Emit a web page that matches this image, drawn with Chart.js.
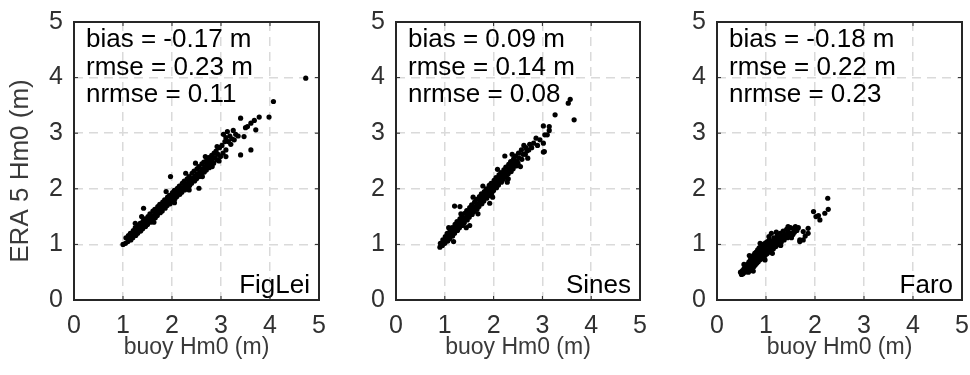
<!DOCTYPE html>
<html>
<head>
<meta charset="utf-8">
<script src="https://cdn.jsdelivr.net/npm/chart.js@4.4.0/dist/chart.umd.min.js"></script>
<style>
  html, body { margin: 0; padding: 0; background: #fff; }
  #wrap { position: relative; width: 970px; height: 375px; overflow: hidden; }
  #wrap canvas { position: absolute; top: 0; }
</style>
</head>
<body>
<div id="wrap">
  <canvas id="c0" width="340" height="375" style="left:0px"></canvas>
  <canvas id="c1" width="340" height="375" style="left:322px"></canvas>
  <canvas id="c2" width="327" height="375" style="left:643px"></canvas>
</div>
<script>
/* ERA5 vs buoy Hm0 scatter, three stations */

const FONT = '"Liberation Sans", Arial, Helvetica, sans-serif';

const stationNames = ['FigLei', 'Sines', 'Faro'];
const biasVals = ['-0.17', '0.09', '-0.18'];
const rmseVals = ['0.23', '0.14', '0.22'];
const nrmseVals = ['0.11', '0.08', '0.23'];
const tickValues = [0, 1, 2, 3, 4, 5];
const xTitle = 'buoy Hm0 (m)';
const yTitle = 'ERA 5 Hm0 (m)';

// [buoy, ERA5] pairs
const figleiPts = [
  [1.00,1.00],[1.05,1.02],[1.06,1.12],[1.10,1.05],[1.11,1.16],[1.12,1.09],[1.15,1.20],[1.16,1.08],
  [1.17,1.14],[1.20,1.12],[1.21,1.25],[1.22,1.18],[1.25,1.30],[1.26,1.16],[1.27,1.24],[1.30,1.20],
  [1.31,1.34],[1.32,1.28],[1.35,1.38],[1.36,1.24],[1.37,1.32],[1.40,1.28],[1.41,1.42],[1.42,1.36],
  [1.42,1.65],[1.45,1.46],[1.46,1.32],[1.47,1.40],[1.50,1.36],[1.51,1.50],[1.52,1.44],[1.55,1.55],
  [1.56,1.40],[1.57,1.48],[1.60,1.45],[1.61,1.60],[1.62,1.52],[1.65,1.63],[1.66,1.48],[1.67,1.57],
  [1.70,1.52],[1.71,1.68],[1.72,1.60],[1.75,1.72],[1.76,1.57],[1.77,1.65],[1.80,1.60],[1.81,1.76],
  [1.82,1.69],[1.85,1.80],[1.86,1.65],[1.87,1.74],[1.90,1.70],[1.91,1.85],[1.92,1.78],[1.95,1.88],
  [1.96,1.73],[1.97,1.82],[1.97,2.22],[2.00,1.78],[2.01,1.93],[2.02,1.86],[2.05,1.97],[2.06,1.82],
  [2.07,1.90],[2.10,1.86],[2.11,2.01],[2.12,1.94],[2.15,2.05],[2.16,1.90],[2.17,1.98],[2.20,1.94],
  [2.21,2.10],[2.22,2.02],[2.25,2.14],[2.26,1.98],[2.27,2.07],[2.30,2.02],[2.31,2.18],[2.32,2.10],
  [2.35,2.22],[2.36,2.06],[2.37,2.15],[2.40,2.10],[2.41,2.28],[2.42,2.19],[2.45,2.32],[2.46,2.14],
  [2.47,2.23],[2.50,2.18],[2.51,2.36],[2.52,2.27],[2.55,2.40],[2.55,2.01],[2.56,2.22],[2.57,2.31],
  [2.60,2.26],[2.61,2.45],[2.62,2.36],[2.65,2.48],[2.66,2.30],[2.67,2.40],[2.70,2.34],[2.71,2.52],
  [2.72,2.44],[2.75,2.56],[2.76,2.38],[2.77,2.48],[2.80,2.42],[2.81,2.60],[2.82,2.52],[2.85,2.46],
  [2.86,2.64],[2.88,2.56],[2.90,2.68],[2.92,2.52],[2.94,2.62],[2.97,2.74],[2.99,2.58],[3.02,2.78],
  [3.04,2.64],[3.08,2.85],[3.10,2.70],[3.10,2.58],[3.10,2.92],[3.13,3.03],[3.15,2.85],[3.18,2.95],
  [3.20,2.80],[3.22,2.90],[3.27,2.88],[3.30,2.98],[3.35,2.95],[3.40,3.27],[3.40,2.61],[3.47,2.94],
  [3.50,3.10],[3.54,3.12],[3.61,3.18],[3.61,2.70],[3.68,3.23],[3.71,3.06],[3.78,3.29],[3.98,3.29],
  [4.07,3.57],[4.73,3.99],
  [1.25,1.38],[1.38,1.50],[1.63,1.40],[1.88,1.95],[2.05,1.75],[2.28,2.28],[2.35,1.98],[2.48,2.46],
  [2.62,2.22],[2.68,2.58],[2.82,2.40],[2.92,2.76],[2.96,2.50],[3.05,2.98],[3.25,3.05]
];

const sinesPts = [
  [0.90,0.95],[0.91,1.02],[0.95,0.98],[0.96,1.08],[0.97,1.02],[1.00,1.02],[1.01,1.14],[1.02,1.07],
  [1.05,1.20],[1.06,1.06],[1.07,1.14],[1.10,1.10],[1.11,1.25],[1.12,1.18],[1.15,1.30],[1.16,1.15],
  [1.17,1.24],[1.20,1.20],[1.20,1.69],[1.21,1.36],[1.22,1.28],[1.25,1.41],[1.26,1.25],[1.27,1.33],
  [1.30,1.30],[1.31,1.46],[1.31,1.68],[1.32,1.38],[1.35,1.50],[1.36,1.34],[1.37,1.43],[1.40,1.39],
  [1.41,1.56],[1.42,1.48],[1.45,1.61],[1.46,1.44],[1.47,1.53],[1.50,1.49],[1.51,1.66],[1.51,1.34],
  [1.52,1.58],[1.55,1.71],[1.56,1.54],[1.57,1.63],[1.60,1.59],[1.61,1.76],[1.62,1.68],[1.65,1.81],
  [1.66,1.63],[1.67,1.73],[1.70,1.68],[1.71,1.86],[1.72,1.78],[1.75,1.91],[1.76,1.73],[1.77,1.83],
  [1.80,1.78],[1.81,1.95],[1.82,1.87],[1.85,2.00],[1.86,1.83],[1.87,1.92],[1.90,1.88],[1.91,2.06],
  [1.92,1.97],[1.92,1.74],[1.95,2.10],[1.96,1.92],[1.97,2.02],[2.00,1.97],[2.01,2.15],[2.02,2.07],
  [2.05,2.20],[2.06,2.02],[2.07,2.12],[2.10,2.07],[2.11,2.25],[2.12,2.17],[2.15,2.29],[2.16,2.12],
  [2.17,2.22],[2.20,2.17],[2.21,2.34],[2.22,2.26],[2.23,2.59],[2.25,2.39],[2.26,2.22],[2.27,2.31],
  [2.30,2.27],[2.30,2.18],[2.31,2.44],[2.32,2.36],[2.35,2.49],[2.36,2.31],[2.37,2.41],[2.40,2.36],
  [2.41,2.54],[2.42,2.46],[2.45,2.59],[2.46,2.41],[2.47,2.50],[2.50,2.46],[2.51,2.64],[2.52,2.55],
  [2.57,2.70],[2.58,2.53],[2.60,2.62],[2.65,2.62],[2.66,2.74],[2.68,2.68],[2.72,2.70],[2.74,2.80],
  [2.82,2.82],[2.87,2.91],[2.90,2.78],[3.02,2.82],[3.02,2.66],[3.02,3.13],[3.04,2.67],[3.05,2.97],
  [3.10,2.97],[3.14,3.12],[3.14,3.05],[3.26,3.33],[3.53,3.54],[3.57,3.61],[3.65,3.24],
  [1.08,1.30],[1.18,1.05],[1.33,1.55],[1.44,1.30],[1.58,1.85],[1.68,1.55],[1.78,2.05],[1.98,1.85],
  [2.08,2.35],[2.28,2.12],[2.38,2.62],[2.55,2.40],[2.62,2.78],[2.70,2.55],[2.78,2.74],[2.95,2.88]
];

const faroPts = [
  [0.48,0.50],[0.50,0.46],[0.52,0.53],[0.53,0.47],[0.55,0.56],[0.57,0.50],[0.58,0.60],[0.59,0.55],
  [0.61,0.52],[0.62,0.64],[0.63,0.58],[0.64,0.50],[0.65,0.68],[0.66,0.55],[0.67,0.62],[0.68,0.72],
  [0.69,0.53],[0.70,0.66],[0.71,0.76],[0.72,0.58],[0.73,0.70],[0.74,0.80],[0.75,0.60],[0.76,0.74],
  [0.77,0.84],[0.78,0.63],[0.79,0.72],[0.80,0.86],[0.81,0.66],[0.82,0.78],[0.83,0.90],[0.84,0.69],
  [0.85,0.82],[0.86,0.94],[0.87,0.72],[0.88,0.78],[0.89,0.88],[0.90,0.98],[0.91,0.74],[0.92,0.82],
  [0.93,0.92],[0.94,1.00],[0.95,0.77],[0.96,0.86],[0.97,0.95],[0.98,0.80],[0.99,1.03],[1.00,0.88],
  [1.01,0.98],[1.02,0.83],[1.03,1.05],[1.04,0.90],[1.05,1.00],[1.06,0.86],[1.07,1.08],[1.08,0.94],
  [1.09,1.03],[1.10,0.89],[1.11,1.20],[1.12,0.97],[1.14,1.06],[1.15,0.92],[1.16,1.12],[1.17,1.00],
  [1.19,1.10],[1.20,0.96],[1.22,1.05],[1.23,1.16],[1.25,1.00],[1.26,1.12],[1.28,1.06],[1.29,1.20],
  [1.31,1.04],[1.32,1.15],[1.34,1.10],[1.35,1.24],[1.37,1.08],[1.38,1.18],[1.40,1.14],[1.42,1.27],
  [1.44,1.12],[1.46,1.22],[1.48,1.17],[1.50,1.30],[1.53,1.20],[1.56,1.28],[1.58,1.22],[1.60,1.32],
  [1.63,1.25],[1.69,1.05],[1.69,1.08],[1.76,1.08],[1.76,1.23],[1.80,1.15],[1.86,1.20],[1.86,1.29],
  [1.97,1.59],[2.02,1.50],[2.07,1.52],[2.10,1.44],[2.20,1.56],[2.26,1.83],[2.27,1.63],
  [0.55,0.64],[0.66,0.80],[0.74,0.52],[0.88,1.02],[0.98,0.72],[1.06,1.14],[1.13,0.84],[1.21,1.22],
  [1.30,0.98],[1.45,1.32],[1.52,1.12],[1.66,1.30],[1.55,1.18]
];

const TICK_COLOR = '#303030';
const LABEL_COLOR = '#3a3a3a';
const GRID_COLOR = '#dadada';

// box, inward ticks and text annotations
const framePlugin = {
  id: 'frame',
  afterDatasetsDraw(chart, args, opts) {
    const { ctx, chartArea: a, scales: { x, y } } = chart;
    ctx.save();
    ctx.fillStyle = '#000';
    ctx.font = `26px ${FONT}`;
    ctx.textAlign = 'left';
    ctx.textBaseline = 'alphabetic';
    opts.lines.forEach((t, i) => ctx.fillText(t, a.left + 12, a.top + 25 + i * 27.5));
    ctx.textAlign = 'right';
    ctx.fillText(opts.name, a.right - 9, a.bottom - 7);

    // y title only on the first panel, sits a little below the axis centre
    if (opts.yTitle) {
      ctx.save();
      ctx.translate(21, (a.top + a.bottom) / 2 + 10);
      ctx.rotate(-Math.PI / 2);
      ctx.fillStyle = LABEL_COLOR;
      ctx.font = `26px ${FONT}`;
      ctx.textAlign = 'center';
      ctx.textBaseline = 'middle';
      ctx.fillText(opts.yTitle, 0, 0);
      ctx.restore();
    }

    ctx.strokeStyle = '#262626';
    ctx.lineWidth = 1;
    ctx.beginPath();
    tickValues.forEach(v => {
      const px = x.getPixelForValue(v);
      const py = y.getPixelForValue(v);
      ctx.moveTo(px, a.bottom); ctx.lineTo(px, a.bottom - 4);
      ctx.moveTo(px, a.top); ctx.lineTo(px, a.top + 4);
      ctx.moveTo(a.left, py); ctx.lineTo(a.left + 4, py);
      ctx.moveTo(a.right, py); ctx.lineTo(a.right - 4, py);
    });
    ctx.stroke();

    ctx.lineWidth = 2;
    ctx.strokeRect(a.left, a.top, a.right - a.left, a.bottom - a.top);
    ctx.restore();
  }
};

function axis(which) {
  const isX = which === 'x';
  return {
    type: 'linear',
    min: 0,
    max: 5,
    afterBuildTicks: s => { s.ticks = tickValues.map(v => ({ value: v })); },
    ticks: {
      color: TICK_COLOR,
      font: { family: FONT, size: 25 },
      padding: 11,
      maxRotation: 0,
      autoSkip: false,
    },
    grid: { color: GRID_COLOR, lineWidth: 1.5, drawTicks: false },
    border: { display: false, dash: [9, 6] },
    title: {
      display: isX,
      text: xTitle,
      color: LABEL_COLOR,
      font: { family: FONT, size: 23 },
      padding: { top: 0, bottom: 14 },
    },
    afterFit: s => {
      if (isX) { s.height = 75; s.paddingLeft = 0; s.paddingRight = 0; }
      else { s.width = 74; s.paddingTop = 0; s.paddingBottom = 0; }
    },
  };
}

const panels = [
  { canvas: 'c0', pts: figleiPts, padRight: 21 },
  { canvas: 'c1', pts: sinesPts, padRight: 22 },
  { canvas: 'c2', pts: faroPts, padRight: 8 },
];

panels.forEach((p, i) => {
  new Chart(document.getElementById(p.canvas), {
    type: 'scatter',
    data: {
      datasets: [{
        data: p.pts.map(([bx, ey]) => ({ x: bx, y: ey })),
        backgroundColor: '#000',
        borderWidth: 0,
        pointRadius: 2.6,
      }],
    },
    options: {
      responsive: false,
      animation: false,
      devicePixelRatio: 1,
      layout: { padding: { top: 22, right: p.padRight, bottom: 0, left: 0 } },
      scales: { x: axis('x'), y: axis('y') },
      plugins: {
        legend: { display: false },
        tooltip: { enabled: false },
        frame: {
          name: stationNames[i],
          yTitle: i === 0 ? yTitle : '',
          lines: [
            `bias = ${biasVals[i]} m`,
            `rmse = ${rmseVals[i]} m`,
            `nrmse = ${nrmseVals[i]}`,
          ],
        },
      },
    },
    plugins: [framePlugin],
  });
});
</script>
</body>
</html>
